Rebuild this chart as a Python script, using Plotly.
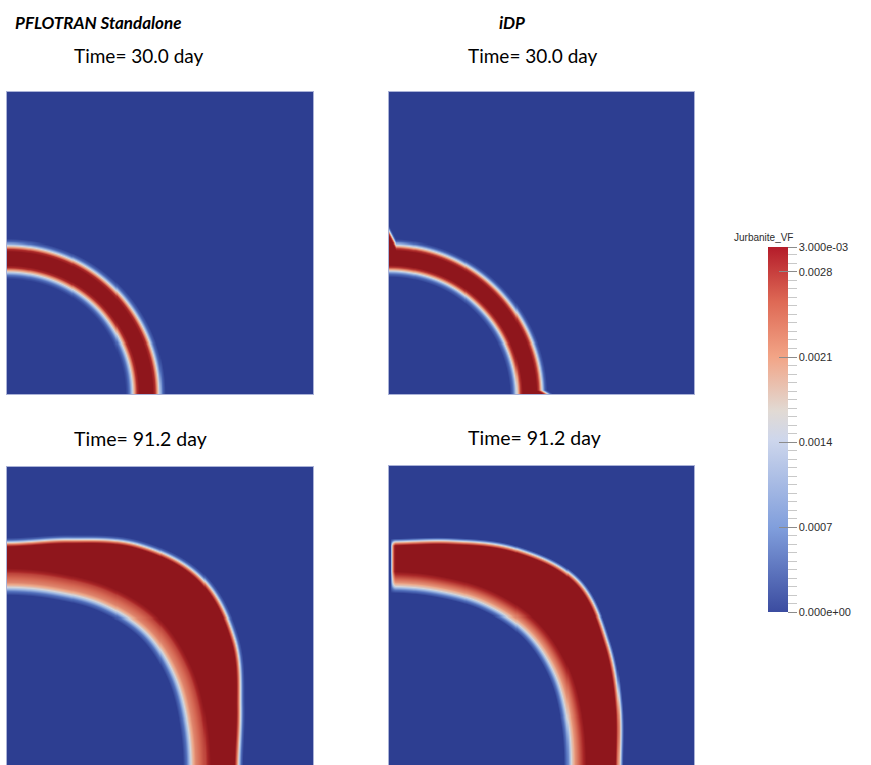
import numpy as np
import plotly.graph_objects as go

# ---------------- data ----------------
THETA_DEG = [0, 15, 30, 45, 60, 75, 90]   # angle from bottom edge (0) to left edge (90)

# PFLOTRAN standalone, 30.0 day: radii of red-core inner / outer edge
P30_R_IN = [0.431, 0.431, 0.430, 0.430, 0.429, 0.428, 0.428]
P30_R_OUT = [0.476, 0.476, 0.475, 0.475, 0.475, 0.474, 0.474]
P30_IN_D = [0, 0.008, 0.016, 0.024, 0.032, 0.040, 0.046]
P30_IN_Z = [0.003, 0.0027, 0.0020, 0.0013, 0.0007, 0.0002, 0.0]
P30_OUT_D = [0, 0.008, 0.016, 0.024, 0.032, 0.040]
P30_OUT_Z = [0.003, 0.0027, 0.0019, 0.0011, 0.0004, 0.0]

# iDP, 30.0 day
I30_R_IN = [0.436, 0.434, 0.432, 0.430, 0.430, 0.429, 0.429]
I30_R_OUT = [0.482, 0.481, 0.479, 0.478, 0.478, 0.478, 0.478]
I30_IN_D = [0, 0.008, 0.016, 0.024, 0.032, 0.040]
I30_IN_Z = [0.003, 0.0026, 0.0018, 0.0010, 0.0004, 0.0]
I30_OUT_D = [0, 0.008, 0.016, 0.024, 0.030, 0.036]
I30_OUT_Z = [0.003, 0.0026, 0.0017, 0.0009, 0.0003, 0.0]
I30_LEFT_SPIKE = 0.042
I30_LEFT_WIDTH = 0.022
I30_BOTTOM_SMEAR = 0.022
I30_BOTTOM_WIDTH = 0.014

# PFLOTRAN standalone, 91.2 day
P91_R_IN = [0.664, 0.672, 0.692, 0.705, 0.692, 0.672, 0.666]
P91_R_OUT = [0.742, 0.775, 0.845, 0.882, 0.845, 0.775, 0.738]
P91_IN_D = [0, 0.008, 0.017, 0.032, 0.047, 0.056, 0.065, 0.078, 0.090]
P91_IN_Z = [0.003, 0.00285, 0.0026, 0.0024, 0.0022, 0.0019, 0.0014, 0.0006, 0.0]
P91_OUT_D = [0, 0.008, 0.016, 0.024, 0.030]
P91_OUT_Z = [0.003, 0.0023, 0.0013, 0.0004, 0.0]

# iDP, 91.2 day
I91_R_IN = [0.645, 0.655, 0.676, 0.687, 0.676, 0.658, 0.652]
I91_R_OUT = [0.742, 0.768, 0.815, 0.862, 0.825, 0.768, 0.738]
I91_IN_D = [0, 0.012, 0.025, 0.037, 0.048, 0.058, 0.072]
I91_IN_Z = [0.003, 0.0027, 0.0024, 0.0021, 0.0016, 0.0009, 0.0]
I91_OUT_D = [0, 0.008, 0.016, 0.024]
I91_OUT_Z = [0.003, 0.0022, 0.0011, 0.0]
I91_LEFT_GAP = 0.004
I91_LEFT_TAPER = 0.018

ZMAX = 0.003
CB_TICKS = [0.0, 0.0007, 0.0014, 0.0021, 0.0028, 0.003]
CB_TEXT = ["0.000e+00", "0.0007", "0.0014", "0.0021", "0.0028", "3.000e-03"]
CB_MINOR_STEP = 0.00007

TITLES = ["PFLOTRAN Standalone", "iDP"]
TIMES = ["Time= 30.0 day", "Time= 30.0 day", "Time= 91.2 day", "Time= 91.2 day"]

# ---------------- field construction ----------------
N = 300
grid = np.linspace(0, 1, N)
X, Y = np.meshgrid(grid, grid)
R = np.hypot(X, Y)
TH = np.degrees(np.arctan2(Y, X))


def smooth_interp(th, knots, vals):
    """Catmull-Rom through the knots, zero slope at both symmetry edges."""
    k = np.asarray(knots, float)
    v = np.asarray(vals, float)
    vv = np.concatenate([[v[1]], v, [v[-2]]])
    h = k[1] - k[0]
    idx = np.clip(((th - k[0]) // h).astype(int), 0, len(k) - 2)
    t = np.clip((th - k[idx]) / h, 0, 1)
    p0, p1, p2, p3 = vv[idx], vv[idx + 1], vv[idx + 2], vv[idx + 3]
    return 0.5 * (2 * p1 + (-p0 + p2) * t + (2 * p0 - 5 * p1 + 4 * p2 - p3) * t ** 2
                  + (-p0 + 3 * p1 - 3 * p2 + p3) * t ** 3)


def band(r_in, r_out, in_d, in_z, out_d, out_z, rout_extra=0.0):
    rin = smooth_interp(TH, THETA_DEG, r_in)
    rout = smooth_interp(TH, THETA_DEG, r_out) + rout_extra
    zin = np.interp(rin - R, in_d, in_z)
    zout = np.interp(R - rout, out_d, out_z)
    return np.where(R < rin, zin, np.where(R > rout, zout, ZMAX))


Z1 = band(P30_R_IN, P30_R_OUT, P30_IN_D, P30_IN_Z, P30_OUT_D, P30_OUT_Z)
sl = np.clip(1 - X / I30_LEFT_WIDTH, 0, 1)
sb = np.clip(1 - Y / I30_BOTTOM_WIDTH, 0, 1)
extra2 = I30_LEFT_SPIKE * sl + I30_BOTTOM_SMEAR * sb
Z2 = band(I30_R_IN, I30_R_OUT, I30_IN_D, I30_IN_Z, I30_OUT_D, I30_OUT_Z, extra2)
Z3 = band(P91_R_IN, P91_R_OUT, P91_IN_D, P91_IN_Z, P91_OUT_D, P91_OUT_Z)
Z4 = band(I91_R_IN, I91_R_OUT, I91_IN_D, I91_IN_Z, I91_OUT_D, I91_OUT_Z)
t = np.clip((X - I91_LEFT_GAP) / I91_LEFT_TAPER, 0, 1)
Z4 = Z4 * (t * t * (3 - 2 * t)) ** 0.35

DARK = [[0.0, "rgb(45,62,145)"], [0.2, "rgb(82,112,188)"], [0.38, "rgb(160,186,228)"],
        [0.5, "rgb(212,212,216)"], [0.65, "rgb(236,170,140)"], [0.8, "rgb(212,102,82)"],
        [0.92, "rgb(170,40,40)"], [1.0, "rgb(143,22,28)"]]
BRIGHT = [[0.0, "rgb(59,76,160)"], [0.23, "rgb(128,158,220)"], [0.47, "rgb(205,214,236)"],
          [0.55, "rgb(225,218,212)"], [0.7, "rgb(242,164,134)"], [0.85, "rgb(222,105,85)"],
          [1.0, "rgb(180,28,42)"]]

W, H = 871, 765
panels = [  # x0, x1, ytop, ybottom (pixels), visible y-range
    (7, 313, 92, 394, [0, 1]),
    (389, 694, 92, 394, [0, 1]),
    (7, 313, 467, 765, [0.0132, 1]),
    (389, 694, 466, 765, [0.01, 1]),
]

fig = go.Figure()
for i, Z in enumerate([Z1, Z2, Z3, Z4]):
    sfx = "" if i == 0 else str(i + 1)
    fig.add_trace(go.Heatmap(x=grid, y=grid, z=np.round(Z, 7), coloraxis="coloraxis",
                             zsmooth="best", xaxis="x" + sfx, yaxis="y" + sfx,
                             hoverinfo="skip"))

minor = [round(k * CB_MINOR_STEP, 8) for k in range(int(ZMAX / CB_MINOR_STEP) + 1)]
minor = [m for m in minor if min(abs(m - v) for v in CB_TICKS) > 1e-7]
common = dict(thickness=20, thicknessmode="pixels", len=365, lenmode="pixels",
              x=768 / W, xanchor="left", y=1 - 430 / H, yanchor="middle",
              xpad=0, ypad=0, outlinewidth=0)
cb_list = [
    dict(tickvals=minor, ticks="outside", ticklen=9, tickwidth=1,
         tickcolor="rgb(200,200,200)", showticklabels=False),
    dict(tickvals=CB_TICKS, ticktext=CB_TEXT, ticks="outside", ticklen=9, tickwidth=1,
         tickcolor="rgb(140,140,140)",
         tickfont=dict(family="Liberation Sans", size=11, color="rgb(45,45,45)")),
    dict(tickvals=CB_TICKS, ticks="inside", ticklen=9, tickwidth=1,
         tickcolor="rgb(140,140,140)", showticklabels=False),
]
for cb in cb_list:
    cb.update(common)
    fig.add_trace(go.Scatter(x=[-5], y=[-5], mode="markers", showlegend=False, hoverinfo="skip",
                             marker=dict(color=[0.0015], colorscale=BRIGHT, cmin=0, cmax=ZMAX,
                                         showscale=True, colorbar=cb, size=1)))

layout = dict(width=W, height=H, margin=dict(l=0, r=0, t=0, b=0),
              paper_bgcolor="white", plot_bgcolor="white", showlegend=False,
              coloraxis=dict(colorscale=DARK, cmin=0, cmax=ZMAX, showscale=False))
for i, (x0, x1, yt, yb, yr) in enumerate(panels):
    sfx = "" if i == 0 else str(i + 1)
    ax = dict(showgrid=False, zeroline=False, showticklabels=False, ticks="",
              showline=True, linecolor="rgb(170,178,215)", linewidth=1, mirror=True)
    layout["xaxis" + sfx] = dict(ax, domain=[x0 / W, x1 / W], range=[0, 1],
                                 anchor="y" + sfx)
    layout["yaxis" + sfx] = dict(ax, domain=[1 - yb / H, 1 - yt / H], range=yr,
                                 anchor="x" + sfx)
fig.update_layout(**layout)

ann = []
for txt, xc in zip(TITLES, [98, 512]):
    ann.append(dict(text="<b><i>%s</i></b>" % txt, x=xc / W, y=1 - 22 / H, xref="paper",
                    yref="paper", showarrow=False, xanchor="center", yanchor="middle",
                    font=dict(family="Lato", size=17, color="black")))
for txt, (xc, yc), fs in zip(TIMES, [(139, 56), (533, 56), (140, 439), (534, 437)],
                             [19, 19, 19.5, 19.5]):
    ann.append(dict(text=txt, x=xc / W, y=1 - yc / H, xref="paper", yref="paper",
                    showarrow=False, xanchor="center", yanchor="middle",
                    font=dict(family="Lato", size=fs, color="black")))
ann.append(dict(text="Jurbanite_VF", x=763 / W, y=1 - 237 / H, xref="paper", yref="paper",
                showarrow=False, xanchor="center", yanchor="middle",
                font=dict(family="Liberation Sans", size=10, color="rgb(45,45,45)")))
fig.update_layout(annotations=ann)

fig.write_html("out.html")
